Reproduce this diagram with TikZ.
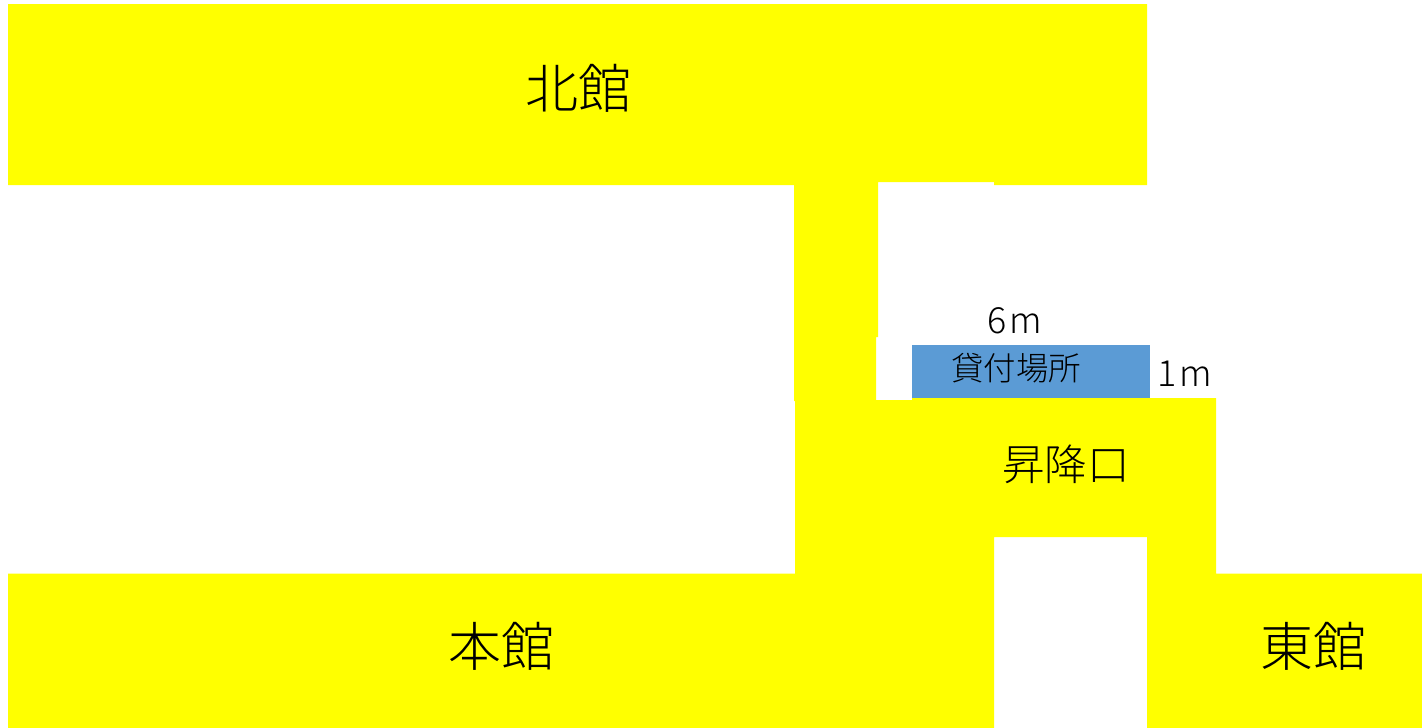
\documentclass[tikz,border=0pt]{standalone}
\usepackage{fontspec}
\IfFontExistsTF{Noto Sans CJK JP Light}{\setmainfont{Noto Sans CJK JP Light}}{\setmainfont{Noto Sans CJK JP}}
\definecolor{hallyellow}{RGB}{255,255,0}
\definecolor{deskblue}{RGB}{91,155,213}
\begin{document}
\begin{tikzpicture}[x=1pt,y=-1pt,
  lbl/.style={text=black,inner sep=0},
  big/.style={lbl,font=\fontsize{53}{53}\selectfont},
  mid/.style={lbl,font=\fontsize{42.5}{43}\selectfont},
  small/.style={lbl,font=\fontsize{32.5}{33}\selectfont},
  dim/.style={lbl,font=\fontsize{36}{36}\selectfont}]
\useasboundingbox (0,0) rectangle (1422,728);
\fill[white] (0,0) rectangle (1422,728);
\fill[hallyellow]
  (8,4) -- (1147,4) -- (1147,185) -- (994,185) -- (994,182) -- (878,182)
  -- (878,337) -- (876,337) -- (876,400) -- (912,400) -- (912,398) -- (1216,398)
  -- (1216,573.5) -- (1422,573.5) -- (1422,728) -- (1147,728) -- (1147,537)
  -- (994,537) -- (994,728) -- (8,728) -- (8,573.5) -- (795,573.5) -- (795,401)
  -- (794,401) -- (794,185) -- (8,185) -- cycle;
\fill[deskblue] (912,345) rectangle (1150,398);
\node[big] (north) at (578,88) {北館};
\node[big] (main) at (501,646) {本館};
\node[big] (east) at (1313,646) {東館};
\node[mid] (entrance) at (1066,464) {昇降口};
\node[small] (desk) at (1016,368) {貸付場所};
\node[dim] (six) at (1015,321) {6\kern3pt m};
\node[dim] (one) at (1185,374) {1\kern3pt m};
\end{tikzpicture}
\end{document}
